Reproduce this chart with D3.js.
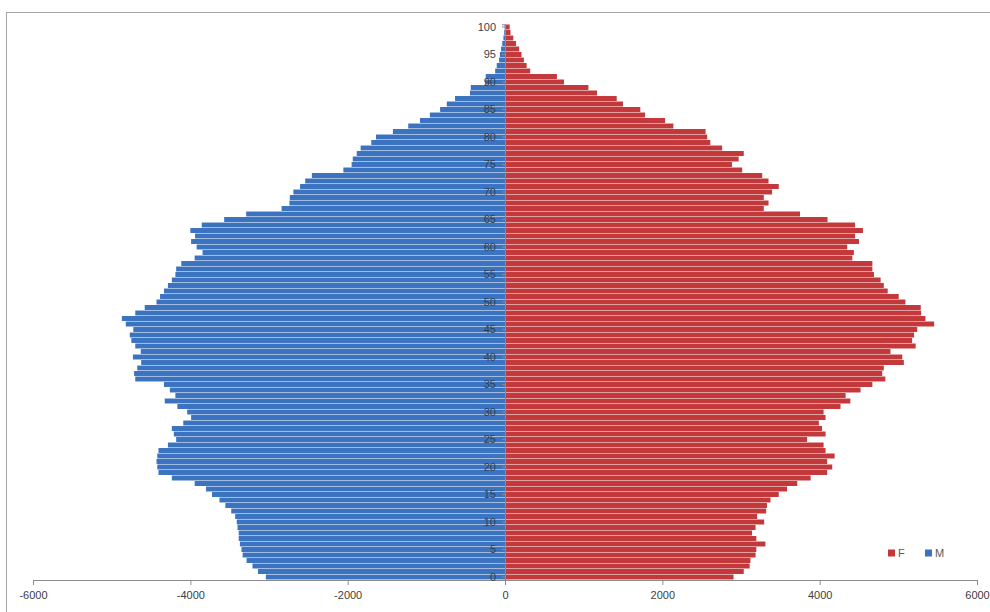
<!DOCTYPE html>
<html>
<head>
<meta charset="utf-8">
<script src="https://cdn.jsdelivr.net/npm/d3@7"></script>
<style>
  html, body { margin: 0; padding: 0; background: #fff; }
  svg text { font-family: "Liberation Sans", Arial, sans-serif; }
</style>
</head>
<body>
<svg id="chart" width="990" height="612"></svg>
<script>
// Age groups 0..100
const ages = d3.range(0, 101);

// Men per single year of age (drawn to the left, stored as negative counts)
const male = [
  -3040, -3140, -3210, -3285, -3335, -3350, -3370, -3385, -3385, -3400,
  -3410, -3430, -3480, -3555, -3630, -3725, -3800, -3945, -4235, -4405,
  -4420, -4430, -4420, -4405, -4285, -4180, -4210, -4235, -4090, -3990,
  -4040, -4165, -4325, -4190, -4260, -4335, -4700, -4715, -4675, -4625,
  -4730, -4630, -4700, -4750, -4770, -4725, -4820, -4870, -4700, -4580,
  -4430, -4385, -4335, -4285, -4235, -4190, -4180, -4115, -3945, -3845,
  -3920, -3990, -3940, -4000, -3855, -3570, -3290, -2840, -2740, -2735,
  -2690, -2605, -2540, -2455, -2055, -1950, -1935, -1885, -1835, -1700,
  -1640, -1425, -1230, -1080, -955, -825, -740, -635, -445, -435,
  -255, -245, -125, -105, -75, -65, -50, -35, -20, -10,
  -5
];

// Women per single year of age
const female = [
  2905, 3035, 3110, 3120, 3185, 3195, 3310, 3195, 3140, 3185,
  3295, 3205, 3320, 3330, 3375, 3480, 3585, 3715, 3885, 4095,
  4160, 4095, 4190, 4075, 4050, 3840, 4075, 4030, 3990, 4075,
  4050, 4265, 4390, 4330, 4520, 4670, 4835, 4795, 4815, 5070,
  5050, 4900, 5220, 5175, 5200, 5240, 5455, 5345, 5290, 5285,
  5090, 5005, 4865, 4815, 4775, 4690, 4670, 4670, 4415, 4435,
  4350, 4500, 4450, 4550, 4450, 4100, 3750, 3290, 3350, 3290,
  3395, 3480, 3350, 3270, 3015, 2885, 2970, 3035, 2760, 2610,
  2570, 2550, 2140, 2035, 1780, 1720, 1500, 1420, 1170, 1060,
  750, 660, 320, 275, 240, 210, 180, 140, 105, 70,
  60
];

const xTicks = [-6000, -4000, -2000, 0, 2000, 4000, 6000];
const ageTicks = d3.range(0, 101, 5);

const seriesNames = ["F", "M"];
const seriesColors = { F: "#c3383a", M: "#3b73c1" };

const svg = d3.select("#chart");

// chart-area outline
svg.append("rect")
  .attr("x", 6.5).attr("y", 12.5)
  .attr("width", 1000).attr("height", 700)
  .attr("fill", "none").attr("stroke", "#a6a6a6").attr("stroke-width", 1);

const x = d3.scaleLinear().domain([-6000, 6000]).range([33, 977]);
const y = d3.scaleBand()
  .domain(ages.slice().reverse())
  .range([24.25, 579.75])
  .paddingInner(0.1)
  .paddingOuter(0.05);

const rows = ages.map((a, i) => ({ age: a, m: male[i], f: female[i] }));

const bars = svg.append("g");
bars.selectAll("rect.m").data(rows).join("rect")
  .attr("class", "m")
  .attr("x", d => x(d.m))
  .attr("width", d => x(0) - x(d.m))
  .attr("y", d => y(d.age))
  .attr("height", y.bandwidth())
  .attr("fill", seriesColors.M);

bars.selectAll("rect.f").data(rows).join("rect")
  .attr("class", "f")
  .attr("x", x(0))
  .attr("width", d => x(d.f) - x(0))
  .attr("y", d => y(d.age))
  .attr("height", y.bandwidth())
  .attr("fill", seriesColors.F);

// horizontal value axis
const xAxis = svg.append("g")
  .attr("transform", "translate(0,580)")
  .call(d3.axisBottom(x).tickValues(xTicks).tickSize(5).tickPadding(6).tickFormat(d => String(d)));
xAxis.select(".domain").attr("stroke", "#8c8c8c");
xAxis.selectAll(".tick line").attr("stroke", "#8c8c8c");
xAxis.selectAll("text").attr("fill", "#404040").style("font-size", "11px");

// age axis at zero
const yAxis = svg.append("g")
  .attr("transform", `translate(${x(0)},0)`)
  .call(d3.axisLeft(y).tickValues(ageTicks).tickSize(3).tickPadding(6));
yAxis.select(".domain").attr("stroke", "#8c8c8c");
yAxis.selectAll(".tick line").attr("stroke", "#8c8c8c");
yAxis.selectAll("text").attr("fill", "#333f4f").style("font-size", "11px");

// legend
const legend = svg.append("g").attr("transform", "translate(888,553)");
const li = legend.selectAll("g").data(seriesNames).join("g")
  .attr("transform", (d, i) => `translate(${i * 37},0)`);
li.append("rect")
  .attr("x", 0).attr("y", -3.5).attr("width", 7).attr("height", 7)
  .attr("fill", d => seriesColors[d]);
li.append("text")
  .attr("x", 10).attr("y", 0).attr("dy", "0.35em")
  .attr("fill", "#595959").style("font-size", "11px")
  .text(d => d);
</script>
</body>
</html>
